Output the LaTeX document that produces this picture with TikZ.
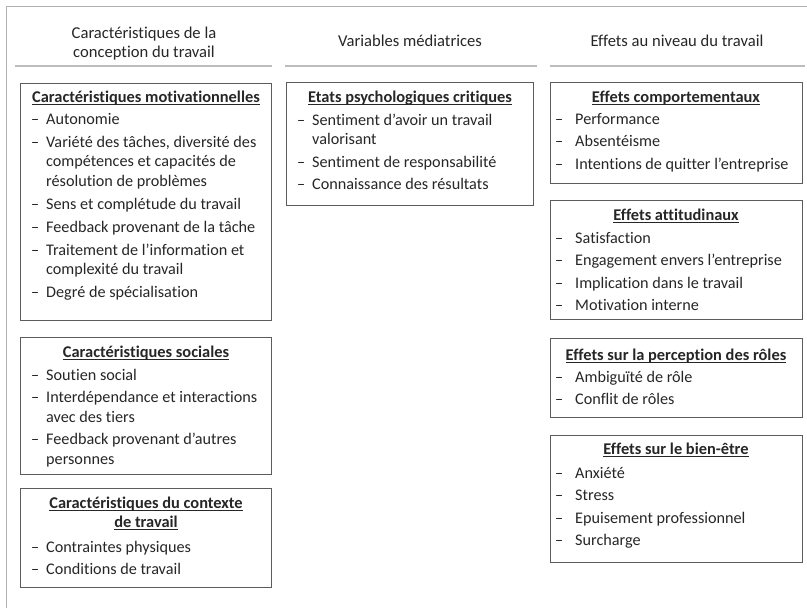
\documentclass[tikz,border=0pt]{standalone}
\usepackage{fontspec}
\setmainfont[Ligatures={NoCommon}]{Carlito}
\usepackage{array}
\definecolor{txt}{HTML}{262626}
\definecolor{boxline}{HTML}{5C5C5C}
\definecolor{rulegray}{HTML}{BDBDBD}
\definecolor{outergray}{HTML}{B0B0B0}
\newcommand{\myul}[1]{\setbox0\hbox{#1}\rlap{\rule[-2.8pt]{\wd0}{1pt}}\box0}
\newcommand{\dsh}{–}
\tikzset{
  box/.style={draw=boxline, line width=1.3pt, inner sep=0pt, anchor=north west},
  ttl/.style={anchor=base, inner sep=0pt, text=txt, font=\bfseries\fontsize{16.4}{19}\selectfont},
  items/.style={anchor=base west, inner sep=0pt, text=txt, font=\fontsize{16.2}{19.5}\selectfont},
  hdr/.style={anchor=base, inner sep=0pt, text=txt, font=\fontsize{16.6}{19}\selectfont},
  hline/.style={draw=rulegray, line width=1.4pt},
  outer/.style={draw=outergray, line width=1pt}
}
\begin{document}
\begin{tikzpicture}[x=1pt, y={(0pt,-1pt)}]
\useasboundingbox (0,0) rectangle (807,608);
\draw[outer] (6.5,608) -- (6.5,6.5) -- (807,6.5);

% headers
\node[hdr] (h1) at (144,38) {\begin{tabular}[t]{@{}c@{}}Caractéristiques de la\\conception du travail\end{tabular}};
\node[hdr] (h2) at (410,46.5) {Variables médiatrices};
\node[hdr] (h3) at (677,46.5) {Effets au niveau du travail};
\draw[hline] (15,66) -- (272,66);
\draw[hline] (285,66) -- (537,66);
\draw[hline] (550,66) -- (805,66);

% left column
\node[box, minimum width=251pt, minimum height=237pt] (L1) at (20,83) {};
\node[ttl] (L1t) at (146,102) {\myul{Caractéristiques motivationnelles}};
\node[items] (L1i) at (31,124) {\begin{tabular}[t]{@{}p{15pt}@{}l@{}}
\dsh & Autonomie\\[3.5pt]
\dsh & Variété des tâches, diversité des\\
 & compétences et capacités de\\
 & résolution de problèmes\\[3.5pt]
\dsh & Sens et complétude du travail\\[3.5pt]
\dsh & Feedback provenant de la tâche\\[3.5pt]
\dsh & Traitement de l’information et\\
 & complexité du travail\\[3.5pt]
\dsh & Degré de spécialisation
\end{tabular}};

\node[box, minimum width=251pt, minimum height=137pt] (L2) at (20,337) {};
\node[ttl] (L2t) at (146,357) {\myul{Caractéristiques sociales}};
\node[items] (L2i) at (31,380) {\begin{tabular}[t]{@{}p{15pt}@{}l@{}}
\dsh & Soutien social\\[3pt]
\dsh & Interdépendance et interactions\\
 & avec des tiers\\[3pt]
\dsh & Feedback provenant d’autres\\
 & personnes
\end{tabular}};

\node[box, minimum width=251pt, minimum height=99pt] (L3) at (20,488) {};
\node[ttl] (L3t) at (146,508) {\begin{tabular}[t]{@{}c@{}}\myul{Caractéristiques du contexte}\\\myul{de travail}\end{tabular}};
\node[items] (L3i) at (31,552) {\begin{tabular}[t]{@{}p{15pt}@{}l@{}}
\dsh & Contraintes physiques\\[3pt]
\dsh & Conditions de travail
\end{tabular}};

% middle column
\node[box, minimum width=247pt, minimum height=123pt] (M1) at (286,82) {};
\node[ttl] (M1t) at (410,102) {\myul{Etats psychologiques critiques}};
\node[items] (M1i) at (297,125) {\begin{tabular}[t]{@{}p{15pt}@{}l@{}}
\dsh & Sentiment d’avoir un travail\\
 & valorisant\\[3pt]
\dsh & Sentiment de responsabilité\\[3pt]
\dsh & Connaissance des résultats
\end{tabular}};

% right column
\node[box, minimum width=252pt, minimum height=101pt] (R1) at (550,82) {};
\node[ttl] (R1t) at (676,102) {\myul{Effets comportementaux}};
\node[items] (R1i) at (555,124) {\begin{tabular}[t]{@{}p{20pt}@{}l@{}}
\dsh & Performance\\[3pt]
\dsh & Absentéisme\\[3pt]
\dsh & Intentions de quitter l’entreprise
\end{tabular}};

\node[box, minimum width=252pt, minimum height=119pt] (R2) at (550,200) {};
\node[ttl] (R2t) at (676,220) {\myul{Effets attitudinaux}};
\node[items] (R2i) at (555,243) {\begin{tabular}[t]{@{}p{20pt}@{}l@{}}
\dsh & Satisfaction\\[3pt]
\dsh & Engagement envers l’entreprise\\[3pt]
\dsh & Implication dans le travail\\[3pt]
\dsh & Motivation interne
\end{tabular}};

\node[box, minimum width=252pt, minimum height=79pt] (R3) at (550,338) {};
\node[ttl] (R3t) at (676,360) {\myul{Effets sur la perception des rôles}};
\node[items] (R3i) at (555,382) {\begin{tabular}[t]{@{}p{20pt}@{}l@{}}
\dsh & Ambiguïté de rôle\\[3pt]
\dsh & Conflit de rôles
\end{tabular}};

\node[box, minimum width=252pt, minimum height=127pt] (R4) at (550,435) {};
\node[ttl] (R4t) at (676,454) {\myul{Effets sur le bien-être}};
\node[items] (R4i) at (555,478) {\begin{tabular}[t]{@{}p{20pt}@{}l@{}}
\dsh & Anxiété\\[3pt]
\dsh & Stress\\[3pt]
\dsh & Epuisement professionnel\\[3pt]
\dsh & Surcharge
\end{tabular}};
\end{tikzpicture}
\end{document}
